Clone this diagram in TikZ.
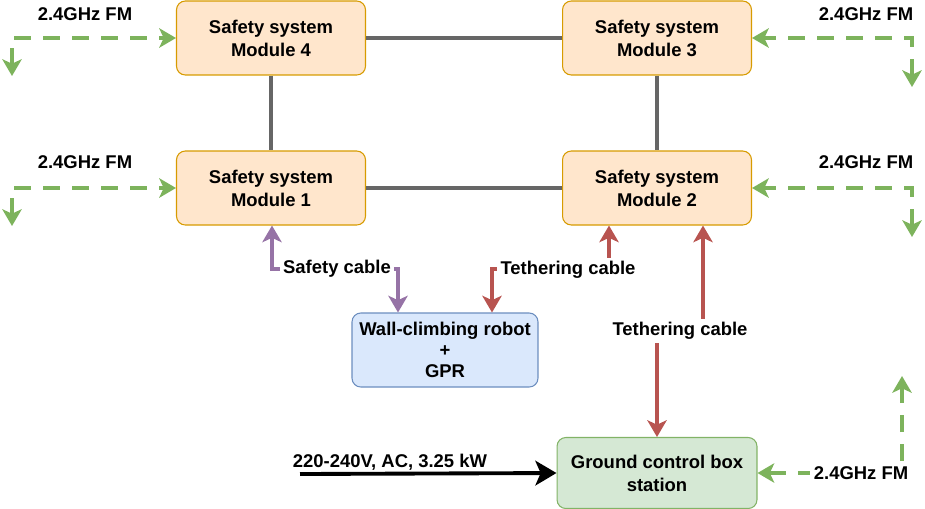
\documentclass[tikz,border=0pt]{standalone}
\usepackage{fontspec}
\setmainfont{Liberation Sans}
\usetikzlibrary{arrows.meta}
\definecolor{modfill}{HTML}{FFE6CC}
\definecolor{modline}{HTML}{D79B00}
\definecolor{robfill}{HTML}{DAE8FC}
\definecolor{robline}{HTML}{6C8EBF}
\definecolor{gndfill}{HTML}{D5E8D4}
\definecolor{gndline}{HTML}{82B366}
\definecolor{radiocol}{HTML}{7DB35C}
\definecolor{safecol}{HTML}{9673A6}
\definecolor{tethcol}{HTML}{B85450}
\definecolor{linkcol}{HTML}{666666}
\begin{document}
\begin{tikzpicture}[x=0.02cm,y=-0.02cm,
  txt/.style={font=\bfseries\fontsize{10.5}{13}\selectfont,align=center,inner sep=1pt},
  box/.style={txt,rounded corners=5pt,line width=0.6pt,minimum width=3.78cm,minimum height=1.48cm,inner sep=0pt},
  module/.style={box,draw=modline,fill=modfill},
  lbl/.style={txt,fill=white,inner sep=2pt},
  twotip/.style={{Stealth[length=9.5pt,width=11pt,inset=2.5pt]}-{Stealth[length=9.5pt,width=11pt,inset=2.5pt]}},
  link/.style={linkcol,line width=2pt},
  radio/.style={radiocol,line width=2.2pt,dash pattern=on 9.5pt off 7pt,twotip},
  safety/.style={safecol,line width=2pt,twotip},
  tether/.style={tethcol,line width=2pt,twotip}]
\useasboundingbox (0,0) rectangle (925,508);
\node[module] (m4) at (271,38) {Safety system\\Module 4};
\node[module] (m3) at (657,38) {Safety system\\Module 3};
\node[module] (m1) at (271,188) {Safety system\\Module 1};
\node[module] (m2) at (657,188) {Safety system\\Module 2};
\node[box,draw=robline,fill=robfill,minimum width=3.72cm,align=center,font=\bfseries\fontsize{10.5}{12}\selectfont] (robot) at (445,350) {Wall-climbing robot\\+\\GPR};
\node[box,draw=gndline,fill=gndfill,minimum width=4cm,minimum height=1.42cm] (ground) at (657,473) {Ground control box\\station};
\draw[link] (m4) -- (m3);
\draw[link] (m4) -- (m1);
\draw[link] (m3) -- (m2);
\draw[link] (m1) -- (m2);
\coordinate (r4) at (12,76);
\coordinate (r1) at (12,226);
\coordinate (r3) at (912,87);
\coordinate (r2) at (912,237);
\coordinate (rg) at (902,376);
\draw[radio] (r4) |- (m4.west);
\draw[radio] (r1) |- (m1.west);
\draw[radio] (r3) |- (m3.east);
\draw[radio] (r2) |- (m2.east);
\draw[radio] (ground.east) -- (902,473) -- (rg);
\node[txt] (f4) at (85,14) {2.4GHz FM};
\node[txt] (f1) at (85,162) {2.4GHz FM};
\node[txt] (f3) at (866,14) {2.4GHz FM};
\node[txt] (f2) at (866,162) {2.4GHz FM};
\node[lbl] (fg) at (861,473) {2.4GHz FM};
\draw[safety] (m1.south -| 272,0) -- (272,269) -- (398,269) -- (robot.north -| 398,0);
\node[lbl] (sc) at (337,269) {Safety cable};
\draw[tether] (robot.north -| 492,0) -- (492,269) -- (609,269) -- (m2.south -| 609,0);
\node[lbl] (tc) at (568,270) {Tethering cable};
\draw[tether] (m2.south -| 703,0) -- (703,331) -- (657,331) -- (ground.north);
\node[lbl] (tg) at (680,331) {Tethering cable};
\coordinate (ps) at (300,474);
\draw[line width=2.2pt,-{Stealth[length=12pt,width=14pt,inset=3pt]}] (ps) -- (ground.west);
\node[txt] (pw) at (390,462) {220-240V, AC, 3.25 kW};
\end{tikzpicture}
\end{document}
